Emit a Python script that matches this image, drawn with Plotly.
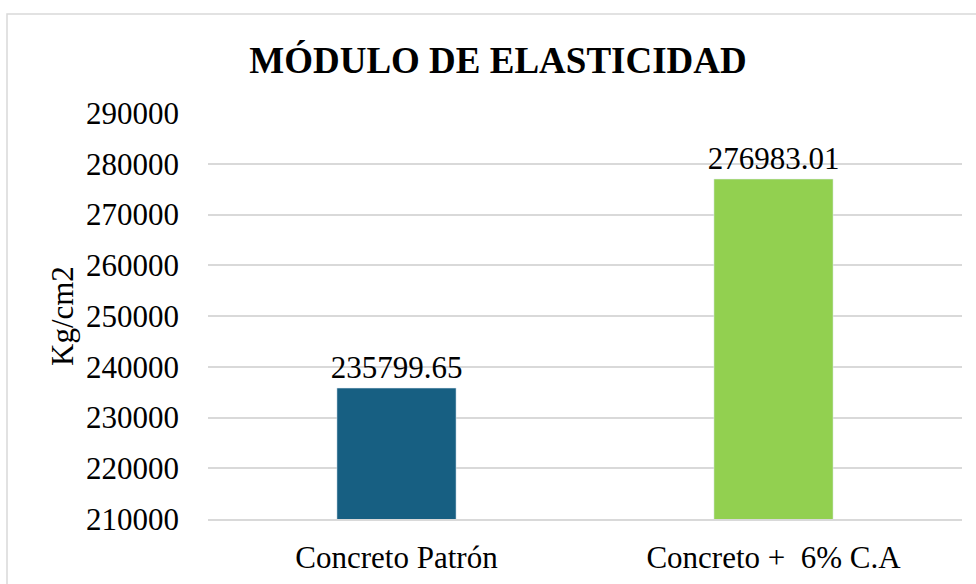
import plotly.graph_objects as go

categories = ['Concreto Patrón', 'Concreto +  6% C.A']
values = [235799.65, 276983.01]
bar_colors = ['#175F82', '#92D050']
tick_vals = [210000, 220000, 230000, 240000, 250000, 260000, 270000, 280000, 290000]

W, H = 976, 584
L, R, T, B = 208, 14, 113, 65
pw = W - L - R
ph = H - T - B

font = 'Liberation Serif'

fig = go.Figure(go.Bar(
    x=categories,
    y=values,
    width=0.316,
    marker_color=bar_colors,
    texttemplate='%{y:.2f}',
    textposition='outside',
    constraintext='none',
    textfont=dict(size=31, color='black', family=font),
    cliponaxis=False,
    hoverinfo='skip',
))

fig.update_layout(
    width=W, height=H,
    margin=dict(l=L, r=R, t=T, b=B, autoexpand=False),
    paper_bgcolor='white',
    plot_bgcolor='white',
    font=dict(family=font, color='black'),
    showlegend=False,
    title=dict(
        text='MÓDULO DE ELASTICIDAD',
        font=dict(size=37, family=font, color='black', weight='bold'),
        x=498 / W, xanchor='center', xref='container',
        y=1 - 60 / H, yanchor='middle', yref='container',
    ),
    xaxis=dict(
        showgrid=False,
        showline=True, linecolor='#d9d9d9', linewidth=1.5,
        tickfont=dict(size=31),
        ticklabelstandoff=10,
        automargin=False,
    ),
    yaxis=dict(
        range=[210000, 290000],
        tickvals=tick_vals,
        tickformat='d',
        showgrid=True, gridcolor='#d9d9d9', gridwidth=1.5,
        zeroline=False,
        tickfont=dict(size=31),
        ticklabelstandoff=28,
        automargin=False,
    ),
    annotations=[dict(
        text='Kg/cm2', textangle=-90,
        x=(62 - L) / pw, y=0.5, xref='paper', yref='paper',
        xanchor='center', yanchor='middle', showarrow=False,
        font=dict(size=31, family=font, color='black'),
    )],
    shapes=[dict(
        type='rect', xref='paper', yref='paper',
        x0=(7 - L) / pw, x1=(990 - L) / pw,
        y0=(H - B - 600) / ph, y1=(H - B - 14) / ph,
        line=dict(color='#d9d9d9', width=1.5),
        fillcolor='rgba(0,0,0,0)', layer='below',
    )],
)

# page has a default 8px body margin, drop it so the figure sits at 0,0
fig.write_html('out.html', config={'displayModeBar': False},
               post_script="document.body.style.margin='0';")
